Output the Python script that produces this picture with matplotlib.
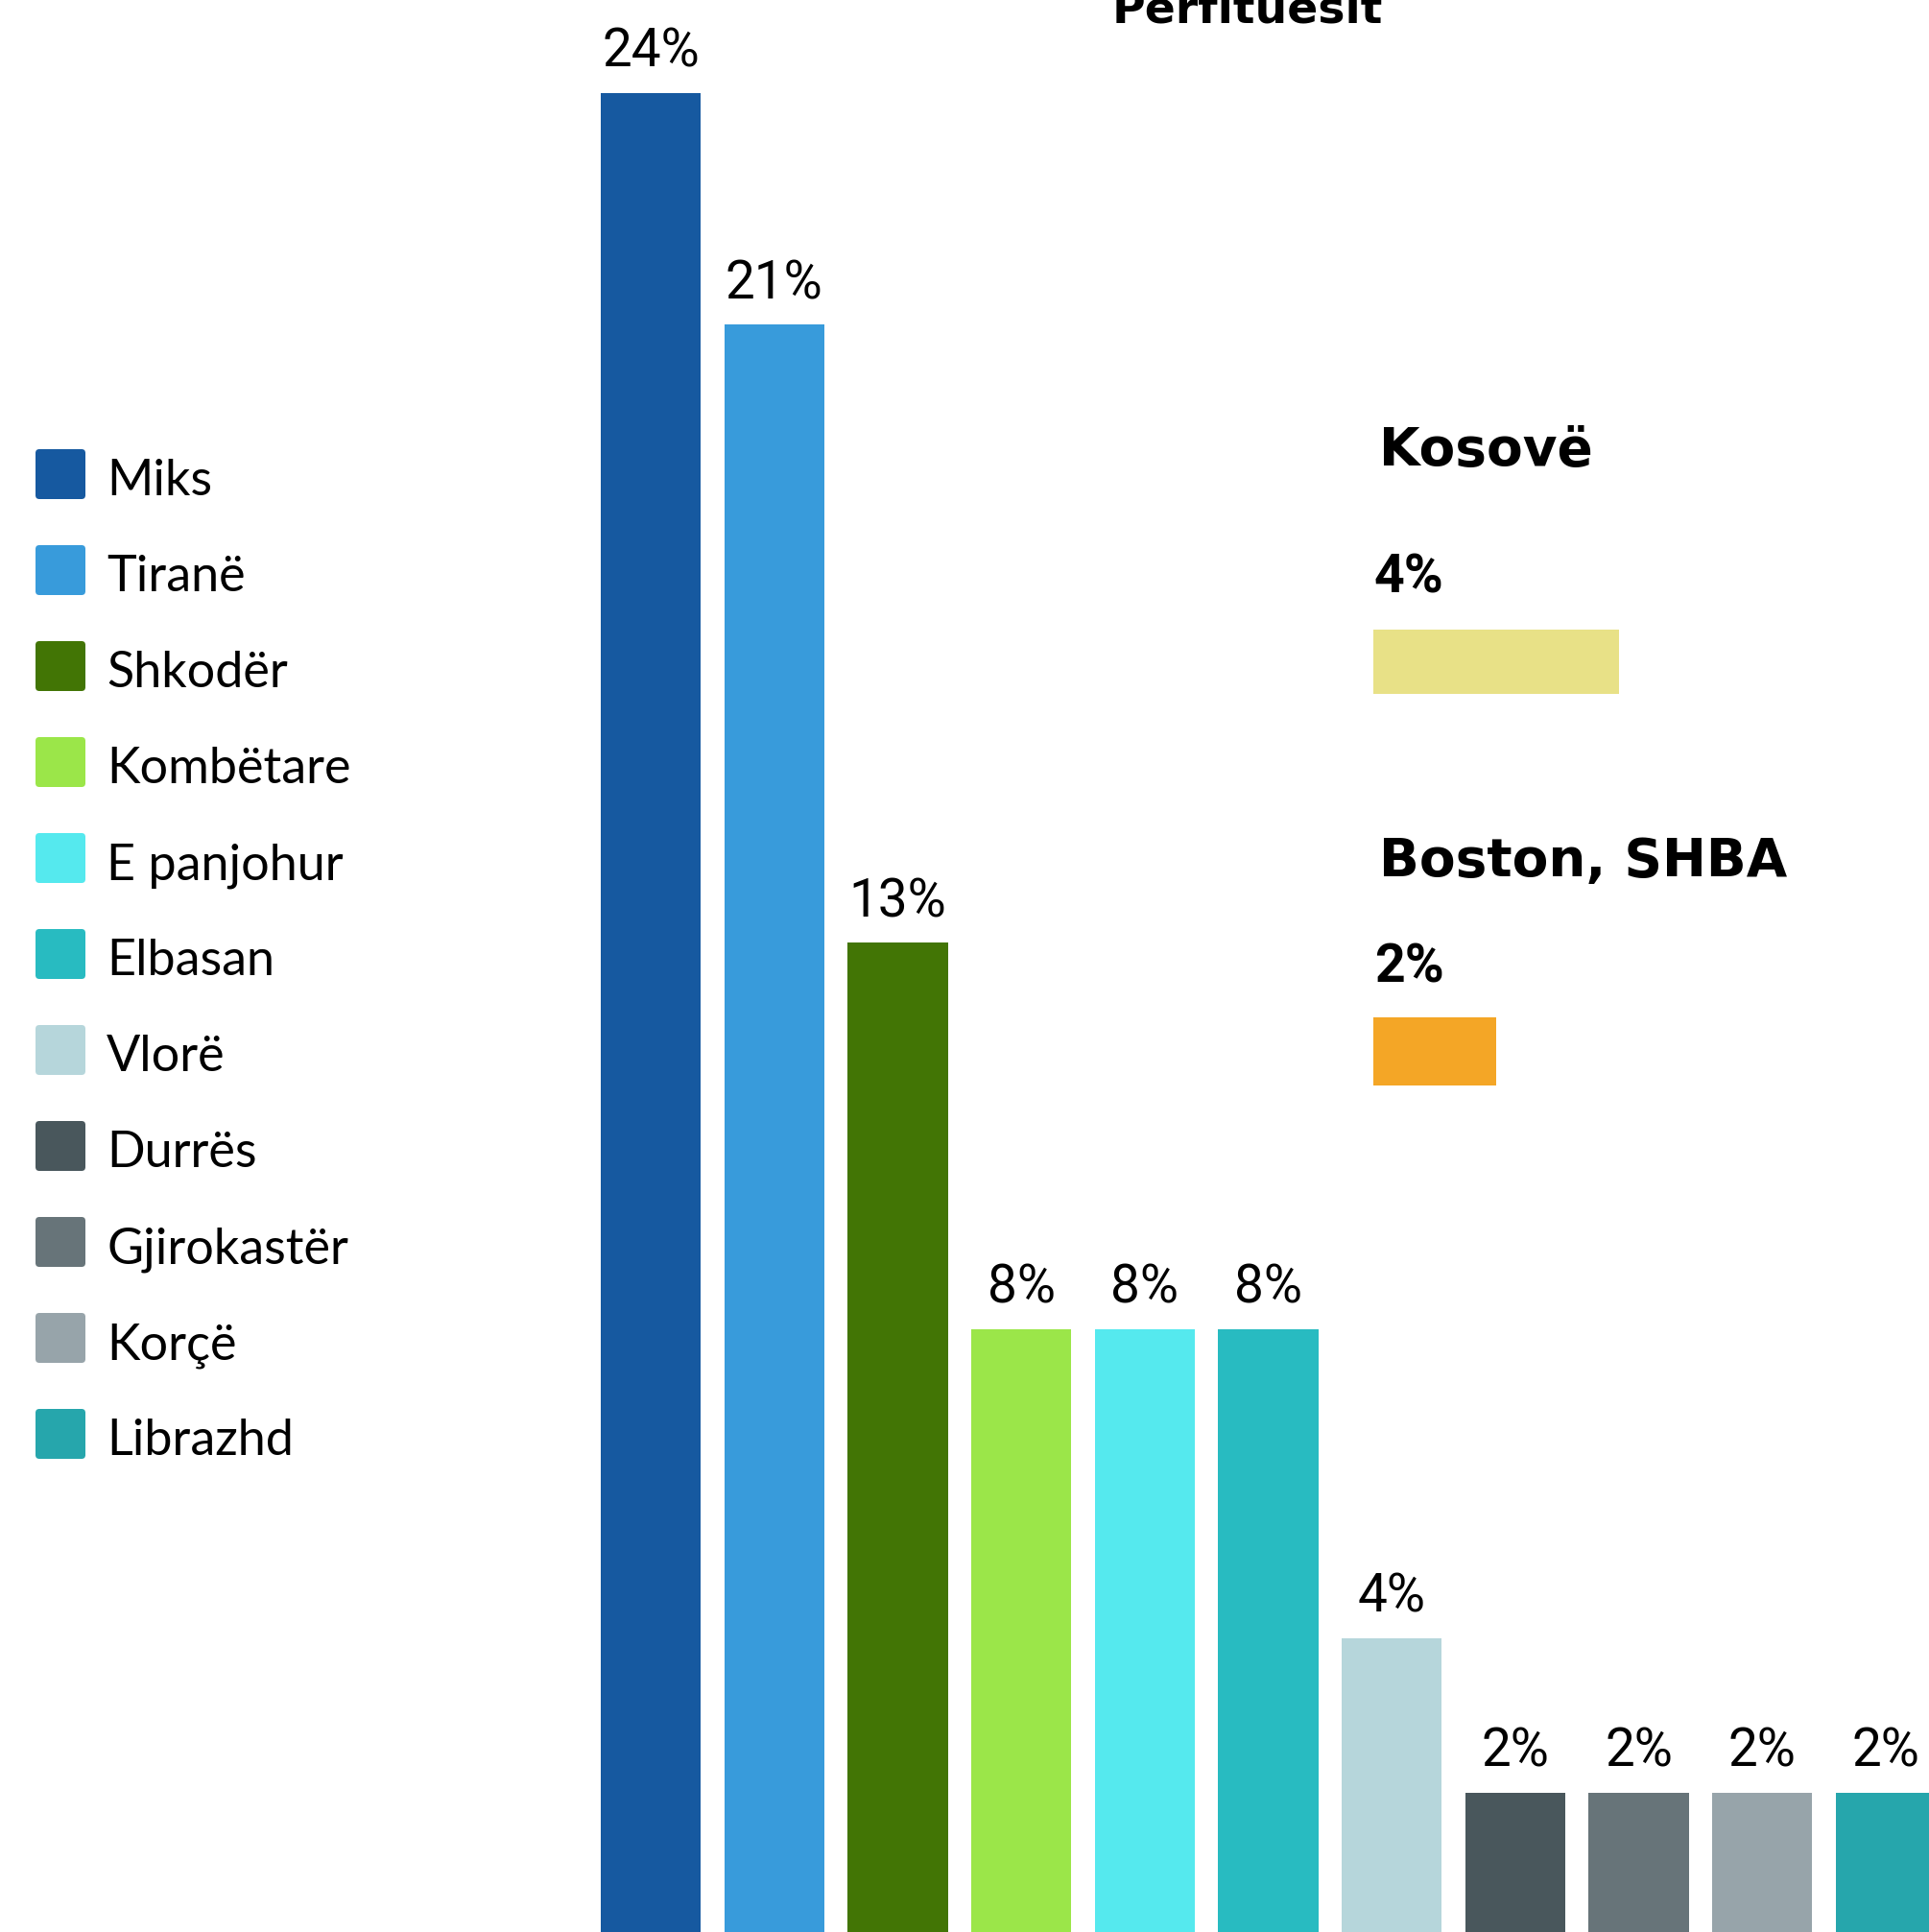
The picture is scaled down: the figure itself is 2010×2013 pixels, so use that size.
import matplotlib
matplotlib.use("Agg")
import matplotlib.pyplot as plt
from matplotlib.patches import FancyBboxPatch

# data
regions = ["Miks", "Tiranë", "Shkodër", "Kombëtare", "E panjohur", "Elbasan",
           "Vlorë", "Durrës", "Gjirokastër", "Korçë", "Librazhd"]
shares = [24, 21, 13, 8, 8, 8, 4, 2, 2, 2, 2]
colors = ["#1659A0", "#389BDB", "#427505", "#9BE649", "#55E9EE", "#28BBC1",
          "#B6D6DB", "#49575C", "#677479", "#97A4AA", "#26A6AC"]

abroad = ["Kosovë", "Boston, SHBA"]
abroad_shares = [4, 2]
abroad_colors = ["#E8E187", "#F4A626"]

title = "Përfituesit"

W, H = 2010, 2013
fig = plt.figure(figsize=(W / 100, H / 100), dpi=100)
fig.patch.set_facecolor("white")


def fx(x):
    return x / W


def fy(y):
    return 1 - y / H


# main bars
ax = fig.add_axes([0, 0, 1, 1])
ax.set_xlim(-5.27, 10.35)
ax.set_ylim(0.2, 25.2)
ax.axis("off")
xs = list(range(len(regions)))
bars = ax.bar(xs, shares, width=0.81, color=colors)
for x, v in zip(xs, shares):
    ax.annotate(f"{v}%", (x, v), xytext=(0, 19.5), textcoords="offset points",
                ha="center", va="baseline", fontsize=39.5, family="Roboto",
                color="black")

# title (cut at top edge, as in the original)
fig.text(fx(1300), fy(24), title, ha="center", va="baseline", fontsize=34,
         fontweight="bold", family="DejaVu Sans")

# legend
ax_px = fig.add_axes([0, 0, 1, 1], facecolor="none")
ax_px.set_xlim(0, W)
ax_px.set_ylim(H, 0)
ax_px.axis("off")
for i, (name, c) in enumerate(zip(regions, colors)):
    cy = 494 + 100 * i
    ax_px.add_patch(FancyBboxPatch((37, cy - 26), 52, 52,
                                   boxstyle="round,pad=0,rounding_size=4",
                                   facecolor=c, edgecolor="none"))
    ax_px.text(111, cy + 22, name, ha="left", va="baseline", fontsize=37.5,
               family="Lato", color="black")

# abroad items
title_base = [485, 913]
pct_base = [617, 1024]
bar_top = [656, 1060]
bar_h = [67, 71]
for name, v, c, tb, pb, bt, bh in zip(abroad, abroad_shares, abroad_colors,
                                      title_base, pct_base, bar_top, bar_h):
    fig.text(fx(1437), fy(tb), name, ha="left", va="baseline", fontsize=39.5,
             fontweight="bold", family="DejaVu Sans")
    fig.text(fx(1432), fy(pb), f"{v}%", ha="left", va="baseline", fontsize=40,
             fontweight="bold", family="Roboto")
    axb = fig.add_axes([fx(1431), fy(bt + bh), fx(64 * 10), bh / H],
                       facecolor="none")
    axb.set_xlim(0, 10)
    axb.set_ylim(0, 1)
    axb.axis("off")
    axb.barh([0.5], [v], height=1, left=0, color=c)

fig.savefig("out.png", dpi=100, facecolor="white")
